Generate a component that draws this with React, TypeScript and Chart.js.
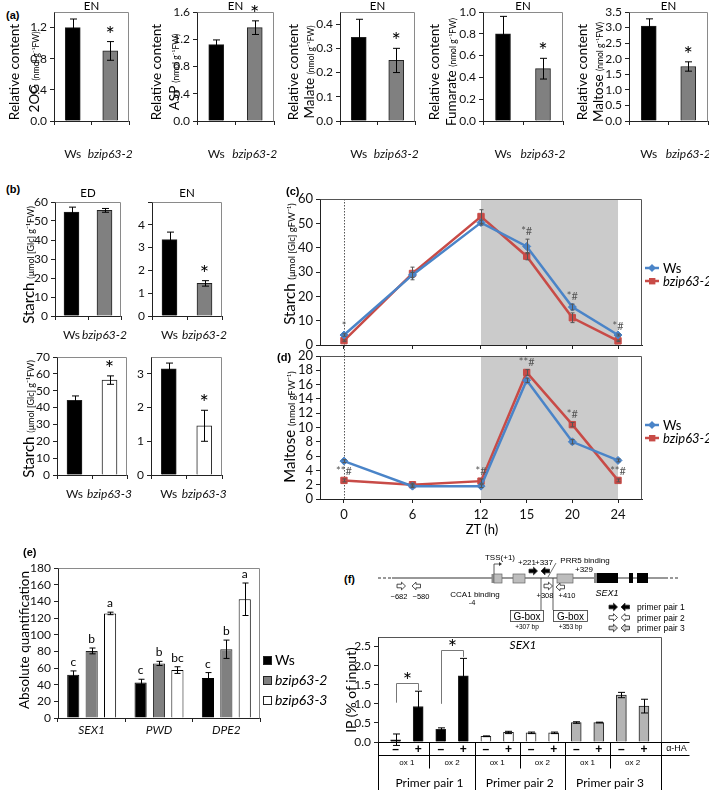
import React, { useEffect, useRef } from 'react';
import { Chart, registerables } from 'chart.js';

Chart.register(...registerables);

const FONT = 'Lato, "Liberation Sans", sans-serif';
const ARIAL = '"Liberation Sans", Arial, sans-serif';
const BLUE = '#4a84c8';
const RED = '#c84b47';
const GRAY = '#808080';

// ================= DATA =================
// (a) metabolites at end of night
const aGenotypes = ['Ws', 'bzip63-2'];
const aMetabolites = ['2OG', 'ASP', 'Malate', 'Fumarate', 'Maltose'];
const aWs = [1.2, 1.12, 0.345, 0.8, 3.05];
const aWsErr = [0.11, 0.07, 0.075, 0.16, 0.23];
const aMut = [0.9, 1.37, 0.25, 0.48, 1.75];
const aMutErr = [0.12, 0.1, 0.05, 0.095, 0.15];
const aSig = ['*', '*', '*', '*', '*'];
const aYMax = [1.4, 1.6, 0.45, 1.0, 3.5];
const aYStep = [0.4, 0.4, 0.1, 0.2, 0.5];

// (b) starch ED / EN
const bTitles = ['ED', 'EN', '', ''];
const bGenotypes = [['Ws', 'bzip63-2'], ['Ws', 'bzip63-2'], ['Ws', 'bzip63-3'], ['Ws', 'bzip63-3']];
const bWs = [54.7, 3.35, 44.3, 3.15];
const bWsErr = [2.6, 0.33, 2.6, 0.17];
const bMut = [55.6, 1.43, 56.3, 1.46];
const bMutErr = [1.0, 0.12, 2.5, 0.46];
const bSig = ['', '*', '*', '*'];
const bYMax = [60, 5, 70, 3.5];
const bYStep = [10, 1, 10, 1];

// (c),(d) diurnal time course
const ztLabels = ['0', '6', '12', '15', '20', '24'];
const ztAxis = [0, 6, 12, 16, 20, 24];
const nightStart = 12;
const nightEnd = 24;
const cStarchWs = [4.1, 28.8, 50.3, 40.5, 15.6, 4.1];
const cStarchWsErr = [0.5, 1.0, 1.0, 3.0, 1.2, 0.4];
const cStarchMut = [1.8, 29.4, 52.8, 36.5, 11.2, 1.7];
const cStarchMutErr = [0.3, 2.6, 2.8, 1.5, 2.0, 0.3];
const cMarks = ['*', '', '', '*#', '*#', '*#'];
const dMaltoseWs = [5.3, 1.8, 1.8, 16.6, 8.0, 5.4];
const dMaltoseWsErr = [0.2, 0.2, 0.2, 0.3, 0.3, 0.2];
const dMaltoseMut = [2.6, 2.0, 2.5, 17.7, 10.4, 2.6];
const dMaltoseMutErr = [0.2, 0.2, 0.3, 0.4, 0.3, 0.2];
const dMarks = ['**#', '', '*#', '**#', '*#', '**#'];

// (e) absolute quantification
const eGenes = ['SEX1', 'PWD', 'DPE2'];
const eSeries = ['Ws', 'bzip63-2', 'bzip63-3'];
const eWs = [52, 42.5, 48];
const eWsErr = [4.5, 4, 6.5];
const eB2 = [80.5, 65.5, 82.5];
const eB2Err = [3.5, 2.5, 11];
const eB3 = [125.5, 57.5, 142.5];
const eB3Err = [1.5, 4, 19.5];
const eLetWs = ['c', 'c', 'c'];
const eLetB2 = ['b', 'b', 'b'];
const eLetB3 = ['a', 'bc', 'a'];

// (f) ChIP
const fSigns = ['–', '+', '–', '+', '–', '+', '–', '+', '–', '+', '–', '+'];
const fIP = [0.06, 0.93, 0.33, 1.73, 0.15, 0.25, 0.24, 0.24, 0.51, 0.51, 1.23, 0.94];
const fErr = [0.15, 0.4, 0.04, 0.46, 0.01, 0.03, 0.02, 0.02, 0.02, 0.01, 0.07, 0.18];
const fOx = ['ox 1', 'ox 2', 'ox 1', 'ox 2', 'ox 1', 'ox 2'];
const fPairs = ['Primer pair 1', 'Primer pair 2', 'Primer pair 3'];
const fPairColors = ['#000000', '#ffffff', '#b4b4b4'];
const fBrackets = [
  { from: 0, to: 1, top: 1.55, leftEnd: 1.03, rightEnd: 1.36 },
  { from: 2, to: 3, top: 2.4, leftEnd: 1.0, rightEnd: 2.23 },
];

// ================= PLUGINS =================
const framePlugin = {
  id: 'frame',
  beforeDatasetsDraw(chart: any, _a: any, o: any) {
    const { ctx, chartArea: a } = chart;
    ctx.save();
    ctx.strokeStyle = o.color || '#808080';
    ctx.lineWidth = 1;
    const l = Math.round(a.left) + 0.5, t = Math.round(a.top) + 0.5;
    const r = Math.round(a.right) - 0.5, b = Math.round(a.bottom) + 0.5;
    ctx.beginPath();
    ctx.moveTo(l, t);
    ctx.lineTo(r, t);
    ctx.lineTo(r, b);
    ctx.stroke();
    ctx.restore();
  },
};

const shadePlugin = {
  id: 'shade',
  beforeDatasetsDraw(chart: any, _a: any, o: any) {
    const { ctx, chartArea: a, scales } = chart;
    const x = scales.x;
    const x1 = x.getPixelForValue(o.from), x2 = x.getPixelForValue(o.to);
    ctx.save();
    ctx.fillStyle = '#cbcbcb';
    ctx.fillRect(x1, a.top, x2 - x1, a.bottom - a.top);
    const x0 = Math.round(x.getPixelForValue(o.line)) + 0.5;
    ctx.strokeStyle = '#555';
    ctx.lineWidth = 1;
    ctx.setLineDash([1.5, 1.5]);
    ctx.beginPath();
    ctx.moveTo(x0, a.top);
    ctx.lineTo(x0, a.bottom + (o.extend || 0));
    ctx.stroke();
    ctx.restore();
  },
};

const errPlugin = {
  id: 'err',
  afterDatasetsDraw(chart: any, _a: any, o: any) {
    const { ctx } = chart;
    const ys = chart.scales.y;
    chart.data.datasets.forEach((ds: any, di: number) => {
      if (!ds.errors) return;
      const meta = chart.getDatasetMeta(di);
      meta.data.forEach((el: any, i: number) => {
        const raw = ds.data[i];
        const v = typeof raw === 'number' ? raw : raw.y;
        const e = ds.errors[i] || 0;
        const x = Math.round(el.x) + 0.5;
        const yt = ys.getPixelForValue(v + e);
        const yb = ys.getPixelForValue(v - e);
        const c = o.cap ?? 3;
        ctx.save();
        ctx.strokeStyle = o.color || '#000';
        ctx.lineWidth = 1;
        if (e > 0) {
          ctx.beginPath();
          ctx.moveTo(x, yt);
          ctx.lineTo(x, yb);
          ctx.moveTo(x - c, yt);
          ctx.lineTo(x + c, yt);
          ctx.moveTo(x - c, yb);
          ctx.lineTo(x + c, yb);
          ctx.stroke();
        }
        const m = ds.marks && ds.marks[i];
        if (m) {
          ctx.fillStyle = o.markColor || '#000';
          ctx.font = o.markFont;
          ctx.textAlign = 'center';
          ctx.textBaseline = 'alphabetic';
          ctx.fillText(m, el.x, Math.min(yt, el.y) - (o.markGap || 0));
        }
        ctx.restore();
      });
    });
  },
};

const fTablePlugin = {
  id: 'ftable',
  afterDraw(chart: any) {
    const { ctx, chartArea: a, scales } = chart;
    const x = scales.x, y = scales.y;
    const L = Math.round(a.left) + 0.5, R = Math.round(a.right) - 0.5, B = Math.round(a.bottom) + 0.5;
    const ext = R + 28;
    const px = (v: number) => Math.round(x.getPixelForValue(v)) + 0.5;
    ctx.save();
    fBrackets.forEach((b) => {
      const x1 = px(b.from), x2 = px(b.to);
      const yt = Math.round(y.getPixelForValue(b.top)) + 0.5;
      ctx.strokeStyle = '#777';
      ctx.lineWidth = 1;
      ctx.beginPath();
      ctx.moveTo(x1, y.getPixelForValue(b.leftEnd));
      ctx.lineTo(x1, yt);
      ctx.lineTo(x2, yt);
      ctx.lineTo(x2, y.getPixelForValue(b.rightEnd));
      ctx.stroke();
      ctx.fillStyle = '#000';
      ctx.font = '22px ' + FONT;
      ctx.textAlign = 'center';
      ctx.textBaseline = 'alphabetic';
      ctx.fillText('*', (x1 + x2) / 2, yt + 4);
    });
    ctx.fillStyle = '#000';
    ctx.font = 'italic 12px ' + FONT;
    ctx.textAlign = 'center';
    ctx.textBaseline = 'middle';
    ctx.fillText('SEX1', (a.left + a.right) / 2 + 3, a.top + 8);
    ctx.strokeStyle = '#000';
    ctx.lineWidth = 1;
    ctx.beginPath();
    ctx.moveTo(R, B);
    ctx.lineTo(ext, B);
    ctx.moveTo(L, B + 13);
    ctx.lineTo(ext, B + 13);
    const perOx = 2, perPair = 4;
    const edges = [L, R];
    for (let k = 1; k < fPairs.length; k++) edges.push(px(k * perPair - 0.5));
    edges.forEach((e) => { ctx.moveTo(e, B); ctx.lineTo(e, B + 50); });
    for (let k = 0; k < fOx.length; k++) {
      if (k % 2 === 0) { const e = px(k * perOx + perOx - 0.5); ctx.moveTo(e, B); ctx.lineTo(e, B + 26); }
    }
    ctx.stroke();
    ctx.fillStyle = '#000';
    ctx.font = '9px ' + ARIAL;
    ctx.textAlign = 'center';
    ctx.textBaseline = 'middle';
    ctx.fillText('α-HA', R + 15, B + 6);
    ctx.font = '8px ' + ARIAL;
    fOx.forEach((t, k) => ctx.fillText(t, x.getPixelForValue(k * perOx + 0.5), B + 20));
    ctx.font = '12px ' + FONT;
    fPairs.forEach((t, k) => ctx.fillText(t, x.getPixelForValue(k * perPair + 1.5), B + 41));
    ctx.restore();
  },
};

// ================= HELPERS =================
function baseOpts(pad: any, plugins: any, scales: any) {
  return {
    animation: false,
    responsive: false,
    maintainAspectRatio: false,
    events: [],
    layout: { padding: { top: pad.padT, right: pad.padR, left: 0, bottom: 0 } },
    plugins: { legend: { display: false }, tooltip: { enabled: false }, ...plugins },
    scales,
  };
}

function yLin(pad: any, max: number, step: number, dec: number, size: number, hideTop = false) {
  return {
    type: 'linear',
    min: 0,
    max,
    afterFit: (s: any) => { s.width = pad.padL; },
    border: { color: '#222', width: 1 },
    grid: { drawOnChartArea: false, drawTicks: true, tickLength: 4, color: '#222' },
    ticks: {
      stepSize: step,
      includeBounds: false,
      autoSkip: false,
      maxTicksLimit: 50,
      padding: 3,
      color: '#111',
      font: { family: FONT, size },
      callback: (v: any) => (hideTop && v >= max - 1e-9 ? '' : Number(v).toFixed(dec)),
    },
  };
}

function xCat(pad: any, size: number, padding: number, italicFrom: number) {
  return {
    type: 'category',
    afterFit: (s: any) => { s.height = pad.padB; },
    border: { color: '#222', width: 1 },
    grid: { drawOnChartArea: false, tickLength: 4, color: '#222', offset: true },
    ticks: {
      padding,
      maxRotation: 0,
      minRotation: 0,
      autoSkip: false,
      color: '#111',
      font: (c: any) => ({ family: FONT, size, style: c.index >= italicFrom ? 'italic' : 'normal' }),
    },
  };
}

function pairBar(labels: string[], vals: number[], errs: number[], colors: string[], sig: string, max: number, step: number, dec: number, xPad: number, hideTop = false) {
  return (pad: any) => ({
    type: 'bar',
    data: {
      labels,
      datasets: [{ data: vals, errors: errs, marks: ['', sig], backgroundColor: colors, borderColor: '#222', borderWidth: 1, barThickness: 15 }],
    },
    options: baseOpts(
      pad,
      { frame: { color: '#8a8a8a' }, err: { color: '#000', cap: 3.5, markFont: '22px ' + FONT, markGap: 0 } },
      { x: xCat(pad, 12, xPad, 1), y: yLin(pad, max, step, dec, 12, hideTop) },
    ),
    plugins: [framePlugin, errPlugin],
  });
}

function lineChart(ws: number[], wsErr: number[], mut: number[], mutErr: number[], marks: string[], markOnWs: boolean, max: number, step: number, showX: boolean, extend: number) {
  return (pad: any) => ({
    type: 'line',
    data: {
      datasets: [
        {
          label: 'Ws', data: ws.map((v, i) => ({ x: ztAxis[i], y: v })), errors: wsErr, marks: markOnWs ? marks : null,
          borderColor: BLUE, backgroundColor: BLUE, pointStyle: 'rectRot', pointRadius: 4, pointBorderWidth: 1, borderWidth: 2.5, tension: 0,
        },
        {
          label: 'bzip63-2', data: mut.map((v, i) => ({ x: ztAxis[i], y: v })), errors: mutErr, marks: markOnWs ? null : marks,
          borderColor: RED, backgroundColor: RED, pointStyle: 'rect', pointRadius: 4.5, pointBorderWidth: 1, borderWidth: 2.5, tension: 0,
        },
      ],
    },
    options: baseOpts(
      pad,
      {
        shade: { from: nightStart, to: nightEnd, line: 0, extend },
        frame: { color: '#555' },
        err: { color: '#555', cap: 2, markFont: '11px ' + FONT, markColor: '#555', markGap: 4 },
      },
      {
        x: {
          type: 'linear', min: -2.1, max: 26.1,
          afterBuildTicks: (s: any) => { s.ticks = ztAxis.map((v) => ({ value: v })); },
          afterFit: (s: any) => { s.height = pad.padB; },
          border: { color: '#222', width: 1 },
          grid: { drawOnChartArea: false, tickLength: 4, color: '#222' },
          ticks: { padding: 4, maxRotation: 0, minRotation: 0, autoSkip: false, color: '#111', font: { family: FONT, size: 13 }, callback: (_v: any, i: number) => (showX ? ztLabels[i] : '') },
        },
        y: yLin(pad, max, step, 0, 13),
      },
    ),
    plugins: [shadePlugin, framePlugin, errPlugin],
  });
}

const eChart = (pad: any) => ({
  type: 'bar',
  data: {
    labels: eGenes,
    datasets: [
      { data: eWs, errors: eWsErr, marks: eLetWs, backgroundColor: '#000', borderColor: '#000', borderWidth: 1, barPercentage: 0.66, categoryPercentage: 0.82 },
      { data: eB2, errors: eB2Err, marks: eLetB2, backgroundColor: GRAY, borderColor: '#222', borderWidth: 1, barPercentage: 0.66, categoryPercentage: 0.82 },
      { data: eB3, errors: eB3Err, marks: eLetB3, backgroundColor: '#fff', borderColor: '#000', borderWidth: 1, barPercentage: 0.66, categoryPercentage: 0.82 },
    ],
  },
  options: baseOpts(
    pad,
    { frame: { color: '#8a8a8a' }, err: { color: '#000', cap: 3, markFont: '12px ' + FONT, markGap: 5 } },
    { x: xCat(pad, 12, 1, 0), y: yLin(pad, 180, 20, 0, 12) },
  ),
  plugins: [framePlugin, errPlugin],
});

const fChart = (pad: any) => ({
  type: 'bar',
  data: {
    datasets: [{
      data: fIP.map((v, i) => ({ x: i, y: v })), errors: fErr,
      backgroundColor: fIP.map((_v, i) => fPairColors[Math.floor(i / 4)]),
      borderColor: '#222', borderWidth: 1, barThickness: 10,
    }],
  },
  options: baseOpts(
    pad,
    { frame: { color: '#555' }, err: { color: '#000', cap: 3.5 } },
    {
      x: {
        type: 'linear', min: -0.78, max: 11.8, offset: false,
        afterBuildTicks: (s: any) => { s.ticks = fSigns.map((_t, i) => ({ value: i })); },
        afterFit: (s: any) => { s.height = pad.padB; },
        border: { color: '#000', width: 1 },
        grid: { display: false, drawTicks: false, offset: false },
        ticks: { padding: 0, maxRotation: 0, minRotation: 0, autoSkip: false, color: '#000', font: { family: ARIAL, size: 12, weight: 'bold' }, callback: (v: any) => fSigns[Math.round(v)] },
      },
      y: yLin(pad, 2.75, 0.5, 1, 12),
    },
  ),
  plugins: [framePlugin, errPlugin, fTablePlugin],
});

function ChartBox({ L, T, R, B, padL = 34, padB, padT = 12, padR = 40, make }: any) {
  const ref = useRef<HTMLCanvasElement | null>(null);
  const w = R - L + padL + padR;
  const h = B - T + padT + padB;
  useEffect(() => {
    const chart = new Chart(ref.current as HTMLCanvasElement, make({ padL, padB, padT, padR }) as any);
    return () => chart.destroy();
  }, []);
  return <canvas ref={ref} width={w} height={h} style={{ position: 'absolute', left: L - padL, top: T - padT, width: w, height: h }} />;
}

const Txt = ({ x, y, s = 12, left, it, b, f = FONT, children }: any) => (
  <div style={{
    position: 'absolute', left: x, top: y, transform: left ? 'translate(0,-50%)' : 'translate(-50%,-50%)',
    fontSize: s, fontFamily: f, fontStyle: it ? 'italic' : 'normal', fontWeight: b ? 'bold' : 'normal', lineHeight: 1, whiteSpace: 'nowrap', color: '#000',
  }}>{children}</div>
);

const VTitle = ({ x, y, parts }: any) => (
  <div style={{ position: 'absolute', left: x, top: y, transform: 'translate(-50%,-50%) rotate(-90deg)', whiteSpace: 'nowrap', fontFamily: FONT, lineHeight: 1, color: '#000' }}>
    {parts.map((p: any, i: number) => <span key={i} style={{ fontSize: p[1] }}>{p[0]}</span>)}
  </div>
);

const rArrow = (x: number, y: number, fill: string, key: string) => (
  <polygon key={key} points={`${x},${y - 1.8} ${x + 4.5},${y - 1.8} ${x + 4.5},${y - 3.8} ${x + 8.5},${y} ${x + 4.5},${y + 3.8} ${x + 4.5},${y + 1.8} ${x},${y + 1.8}`} fill={fill} stroke="#222" strokeWidth={0.8} />
);
const lArrow = (x: number, y: number, fill: string, key: string) => (
  <polygon key={key} points={`${x},${y} ${x + 4},${y - 3.8} ${x + 4},${y - 1.8} ${x + 8.5},${y - 1.8} ${x + 8.5},${y + 1.8} ${x + 4},${y + 1.8} ${x + 4},${y + 3.8}`} fill={fill} stroke="#222" strokeWidth={0.8} />
);

const aBox = [[54, 129], [197, 274], [340, 415], [483, 563], [629, 708]];
const aTitleX = [[13, 33], [155, 173], [292, 308], [433, 450], [581, 597]];
const bBox = [[55, 121, 202, 316], [152, 222, 202, 316], [57, 127, 357, 475], [151, 222, 357, 475]];

export default function App() {
  const sm = 8.5;
  return (
    <div style={{ position: 'absolute', left: 0, top: 0, width: 709, height: 790, overflow: 'hidden', background: '#fff' }}>
      {aMetabolites.map((m, i) => (
        <ChartBox key={'a' + i} L={aBox[i][0]} R={aBox[i][1]} T={12} B={121} padB={42}
          make={pairBar(aGenotypes, [aWs[i], aMut[i]], [aWsErr[i], aMutErr[i]], ['#000', GRAY], aSig[i], aYMax[i], aYStep[i], 1, 22)} />
      ))}
      {bBox.map((bx, i) => (
        <ChartBox key={'b' + i} L={bx[0]} R={bx[1]} T={bx[2]} B={bx[3]} padB={28}
          make={pairBar(bGenotypes[i], [bWs[i], bMut[i]], [bWsErr[i], bMutErr[i]], ['#000', i < 2 ? GRAY : '#fff'], bSig[i], bYMax[i], bYStep[i], 0, 8, i === 1)} />
      ))}
      <ChartBox L={320} R={642} T={199} B={345} padB={12}
        make={lineChart(cStarchWs, cStarchWsErr, cStarchMut, cStarchMutErr, cMarks, true, 60, 10, false, 11)} />
      <ChartBox L={320} R={642} T={356} B={499} padB={26}
        make={lineChart(dMaltoseWs, dMaltoseWsErr, dMaltoseMut, dMaltoseMutErr, dMarks, false, 20, 2, true, 0)} />
      <ChartBox L={58} R={260} T={568} B={718} padB={22} make={eChart} />
      <ChartBox L={378} R={662} T={637} B={742} padB={50} padR={40} make={fChart} />

      <Txt x={6} y={15} s={11} b left f={ARIAL}>(a)</Txt>
      <Txt x={6} y={189} s={11} b left f={ARIAL}>(b)</Txt>
      <Txt x={286} y={191} s={11} b left f={ARIAL}>(c)</Txt>
      <Txt x={277} y={357} s={11} b left f={ARIAL}>(d)</Txt>
      <Txt x={23} y={552} s={11} b left f={ARIAL}>(e)</Txt>
      <Txt x={344} y={579} s={11} b left f={ARIAL}>(f)</Txt>

      {aMetabolites.map((m, i) => (
        <React.Fragment key={'at' + i}>
          <Txt x={(aBox[i][0] + aBox[i][1]) / 2} y={6} s={11.5}>EN</Txt>
          <VTitle x={aTitleX[i][0]} y={72} parts={[['Relative content', 13.5]]} />
          <VTitle x={aTitleX[i][1]} y={72} parts={[[m + ' ', 13.5], ['(nmol g⁻¹FW)', sm]]} />
        </React.Fragment>
      ))}
      {bBox.map((bx, i) => bTitles[i] ? <Txt key={'bt' + i} x={(bx[0] + bx[1]) / 2} y={193} s={11.5}>{bTitles[i]}</Txt> : null)}
      <VTitle x={28} y={265} parts={[['Starch ', 15], ['(μmol [Glc] g⁻¹FW)', 9]]} />
      <VTitle x={28} y={419} parts={[['Starch ', 15], ['(μmol [Glc] g⁻¹FW)', 9]]} />
      <VTitle x={289} y={264} parts={[['Starch ', 15], ['(μmol [Glc] gFW⁻¹)', 9.5]]} />
      <VTitle x={289} y={427} parts={[['Maltose ', 15], ['(nmol gFW⁻¹)', 9.5]]} />
      <Txt x={482} y={529} s={13}>ZT (h)</Txt>
      <VTitle x={23} y={640} parts={[['Absolute quantification', 13.5]]} />
      {eSeries.map((s, i) => (
        <React.Fragment key={'el' + i}>
          <div style={{ position: 'absolute', left: 263, top: 656 + i * 20, width: 7, height: 7, background: ['#000', GRAY, '#fff'][i], border: '1px solid #222' }} />
          <Txt x={275} y={660 + i * 20} s={14} left it={i > 0}>{s}</Txt>
        </React.Fragment>
      ))}
      <VTitle x={350} y={690} parts={[['IP (% of input)', 14]]} />

      <svg width={709} height={790} style={{ position: 'absolute', left: 0, top: 0, pointerEvents: 'none' }}>
        {[268, 425].map((y0, k) => (
          <g key={'lg' + k}>
            <line x1={645} x2={659} y1={y0} y2={y0} stroke={BLUE} strokeWidth={2.5} />
            <polygon points={`652,${y0 - 4} 656,${y0} 652,${y0 + 4} 648,${y0}`} fill={BLUE} />
            <text x={663} y={y0 + 4.5} fontFamily={FONT} fontSize={13}>Ws</text>
            <line x1={645} x2={659} y1={y0 + 13} y2={y0 + 13} stroke={RED} strokeWidth={2.5} />
            <rect x={649} y={y0 + 10} width={6.4} height={6.4} fill={RED} />
            <text x={663} y={y0 + 17.5} fontFamily={FONT} fontSize={13} fontStyle="italic">bzip63-2</text>
          </g>
        ))}

        <g fontFamily={ARIAL} fill="#000">
          <line x1={378} x2={392} y1={578} y2={578} stroke="#333" strokeWidth={1.2} strokeDasharray="3,2" />
          <line x1={392} x2={665} y1={578} y2={578} stroke="#333" strokeWidth={1.2} />
          <line x1={665} x2={679} y1={578} y2={578} stroke="#333" strokeWidth={1.2} strokeDasharray="3,2" />
          <rect x={491.5} y={574} width={2.5} height={9} fill="#8a8a8a" />
          <rect x={494} y={574} width={8} height={9} fill="#bdbdbd" stroke="#666" strokeWidth={0.7} />
          <rect x={513} y={574} width={12} height={9} fill="#bdbdbd" stroke="#666" strokeWidth={0.7} />
          <rect x={557} y={574} width={16} height={9} fill="#bdbdbd" stroke="#666" strokeWidth={0.7} />
          <rect x={594} y={573} width={3} height={10} fill="#8a8a8a" />
          <rect x={597} y={573} width={21} height={10} fill="#000" />
          <rect x={629} y={573} width={4} height={10} fill="#000" />
          <rect x={637} y={573} width={11} height={10} fill="#000" />
          <polyline points="494,574 494,564 500,564" fill="none" stroke="#333" strokeWidth={0.8} />
          <polygon points="499,562 502,564 499,566" fill="#333" />
          <text x={500} y={560} fontSize={8} textAnchor="middle">TSS(+1)</text>
          <text x={527} y={565} fontSize={8} textAnchor="middle">+221</text>
          <text x={544} y={565} fontSize={8} textAnchor="middle">+337</text>
          <text x={585} y={563} fontSize={8} textAnchor="middle">PRR5 binding</text>
          <text x={584} y={572} fontSize={8} textAnchor="middle">+329</text>
          <line x1={556} y1={563} x2={548} y2={577} stroke="#333" strokeWidth={0.7} />
          {rArrow(529, 571, '#000', 'b1')}
          {lArrow(541, 571, '#000', 'b2')}
          {rArrow(397, 586, '#fff', 'w1')}
          {lArrow(412, 586, '#fff', 'w2')}
          <text x={399} y={599} fontSize={7.5} textAnchor="middle">−682</text>
          <text x={421} y={599} fontSize={7.5} textAnchor="middle">−580</text>
          <text x={475} y={597} fontSize={8} textAnchor="middle">CCA1 binding</text>
          <text x={472} y={605} fontSize={7.5} textAnchor="middle">-4</text>
          <line x1={541} y1={578} x2={541} y2={610} stroke="#333" strokeWidth={0.8} />
          <line x1={553} y1={578} x2={553} y2={610} stroke="#333" strokeWidth={0.8} />
          {rArrow(544, 586, '#fff', 'w3')}
          {lArrow(556, 587, '#fff', 'w4')}
          <text x={545} y={598} fontSize={7.5} textAnchor="middle">+308</text>
          <text x={567} y={598} fontSize={7.5} textAnchor="middle">+410</text>
          <text x={607} y={596} fontSize={9} fontStyle="italic" textAnchor="middle">SEX1</text>
          <rect x={510.5} y={610.5} width={33} height={11} fill="#fff" stroke="#333" strokeWidth={0.8} />
          <rect x={553.5} y={610.5} width={34} height={11} fill="#fff" stroke="#333" strokeWidth={0.8} />
          <text x={527} y={619.5} fontSize={10} textAnchor="middle">G-box</text>
          <text x={570.5} y={619.5} fontSize={10} textAnchor="middle">G-box</text>
          <text x={527} y={628.5} fontSize={6.5} textAnchor="middle">+307 bp</text>
          <text x={570.5} y={628.5} fontSize={6.5} textAnchor="middle">+353 bp</text>
          {[['#000', 'primer pair 1'], ['#fff', 'primer pair 2'], ['#d0d0d0', 'primer pair 3']].map((p, k) => (
            <g key={'pp' + k}>
              {rArrow(609, 607 + k * 10.5, p[0], 'pr' + k)}
              {lArrow(621, 607 + k * 10.5, p[0], 'pl' + k)}
              <text x={637} y={610 + k * 10.5} fontSize={8.5}>{p[1]}</text>
            </g>
          ))}
        </g>
      </svg>
    </div>
  );
}
